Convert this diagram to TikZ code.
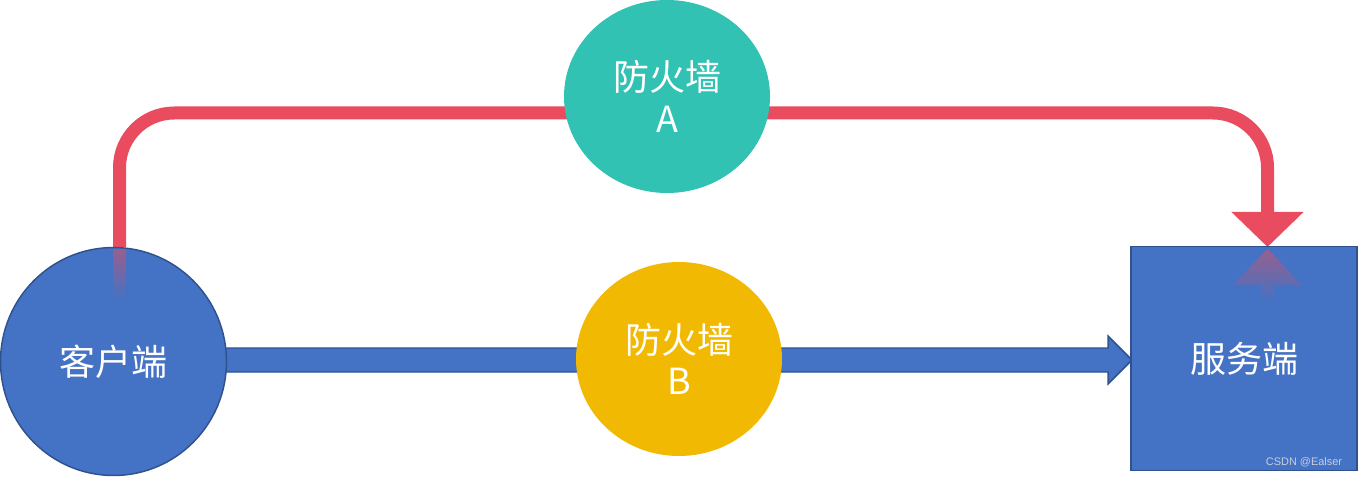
\documentclass[tikz,border=0pt]{standalone}
\usepackage{fontspec}
\newfontfamily\cjk{Noto Sans CJK SC}
\newfontfamily\wmfont{Liberation Sans}
\usetikzlibrary{arrows.meta,calc,shapes.geometric}
\definecolor{cblue}{HTML}{4472C4}
\definecolor{cblueline}{HTML}{2F528F}
\definecolor{cred}{HTML}{E84C5E}
\definecolor{cteal}{HTML}{31C2B4}
\definecolor{cyellow}{HTML}{F1B902}
\definecolor{cmix}{HTML}{96608F}
\definecolor{cwm}{HTML}{C9CFDC}
\tikzset{
  lbl/.style={text=white,font=\cjk\fontsize{27}{31}\selectfont,align=center},
  roundnode/.style={ellipse,inner sep=0pt,lbl},
  redline/.style={draw=cred,line width=9.75pt,rounded corners=41pt,
     -{Triangle[width=52.5pt,length=26.25pt]}},
  blockarrow/.style={fill=cblue,draw=cblueline,line width=1.1pt,line join=miter},
}
\begin{document}
\begin{tikzpicture}[x=0.75pt,y=-0.75pt]
\useasboundingbox (0,0) rectangle (1358,477);
% coordinates for the red connector
\coordinate (r0) at (119.5,247);
\coordinate (r1) at (119.5,113);
\coordinate (r2) at (1267.5,113);
\coordinate (r3) at (1267.5,247);
% red path (behind shapes)
\draw[redline] (r0) -- (r1) -- (r2) -- (r3);
% nodes
\node[roundnode,fill=cteal,minimum width=154.5pt,minimum height=144.75pt] (fwA) at (667,96.5) {防火墙\\A};
% blue arrow
\coordinate (b0) at (200,360);
\coordinate (b1) at (1132,360);
\draw[blockarrow] ($(b0)+(0,-12)$) -- ($(b1)+(-24,-12)$) -- ($(b1)+(-24,-24)$) -- (b1)
  -- ($(b1)+(-24,24)$) -- ($(b1)+(-24,12)$) -- ($(b0)+(0,12)$) -- cycle;
\node[roundnode,fill=cblue,draw=cblueline,line width=1.1pt,minimum width=169.5pt,minimum height=171pt] (client) at (113.5,361.5) {客户端};
\node[roundnode,fill=cyellow,minimum width=154.5pt,minimum height=145.5pt] (fwB) at (679,359) {防火墙\\B};
\node[rectangle,lbl,fill=cblue,draw=cblueline,line width=1.1pt,minimum width=169.5pt,minimum height=168pt,inner sep=0pt] (server) at (1244,358.5) {服务端};
% reflections
\shade[top color=cmix,bottom color=cblue] (113,249) rectangle (126,300);
\shade[top color=cmix,bottom color=cblue] (1267.5,249) -- (1302,285) -- (1274,285) -- (1274,302) -- (1261,302) -- (1261,285) -- (1233,285) -- cycle;
% watermark
\node[text=cwm,font=\wmfont\fontsize{8.2}{9}\selectfont,inner sep=0pt] (wm) at (1304,462) {CSDN @Ealser};
\end{tikzpicture}
\end{document}
